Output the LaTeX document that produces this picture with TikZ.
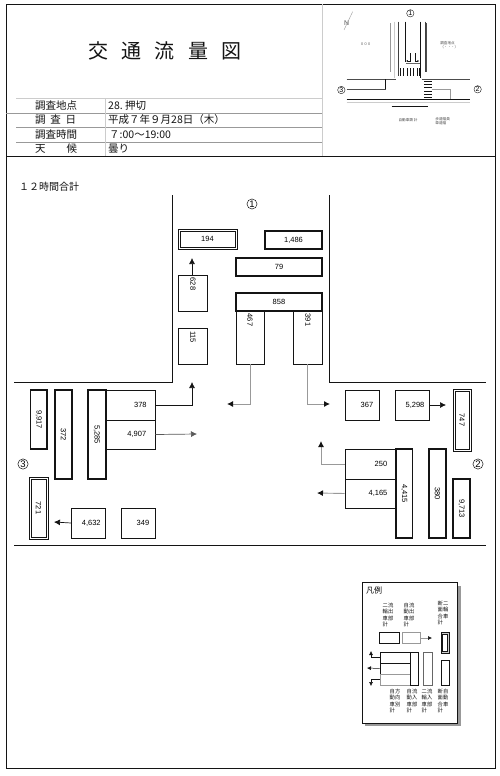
\documentclass[tikz,border=0pt]{standalone}
\usepackage{fontspec}
\usepackage{graphicx}
\setmainfont{Liberation Sans}
\newfontfamily\cjk{Noto Sans CJK JP}
\usetikzlibrary{arrows.meta,calc}
\definecolor{ink}{gray}{0.08}
\definecolor{mid}{gray}{0.6}
\definecolor{faint}{gray}{0.8}
\tikzset{
 cell/.style={draw=ink,line width=0.7pt,inner sep=0pt,font=\fontsize{7.5}{8}\selectfont},
 heavy/.style={draw=ink,line width=1.7pt,inner sep=0pt,font=\fontsize{7.5}{8}\selectfont},
 dbl/.style={draw=ink,line width=0.7pt,inner sep=0pt,font=\fontsize{7.5}{8}\selectfont},
 road/.style={draw=ink,line width=0.8pt},
 arr/.style={draw=ink,line width=0.7pt,-{Latex[length=6pt,width=6pt]}},
 garr/.style={draw=mid,line width=0.9pt,-{Latex[length=6pt,width=6pt,color=ink]}},
 lab/.style={font=\cjk\fontsize{10.5}{10.5}\selectfont,anchor=west,inner sep=0pt,text=ink},
 legtxt/.style={font=\cjk\fontsize{5.3}{6.3}\selectfont,align=left,inner sep=0pt,text=ink},
 legbox/.style={draw=ink,line width=0.6pt},
 tiny/.style={font=\cjk\fontsize{3.6}{4.4}\selectfont,inner sep=0pt,text=black!70,align=left},
 numtxt/.style={font=\fontsize{7.5}{8}\selectfont,rotate=-90,inner sep=0pt},
 circnum/.style={draw=ink,circle,inner sep=0.6pt,line width=0.5pt,font=\fontsize{9.5}{10}\selectfont},
 smallcirc/.style={draw=ink,circle,inner sep=0.4pt,line width=0.4pt,font=\fontsize{7}{7}\selectfont},
}
% box: name, x1,y1,x2,y2, style, text, rotation
\newcommand{\bx}[8]{\node[#6,rotate=#8,minimum width={(#8==0 ? #4-#2 : #5-#3)*1pt},minimum height={(#8==0 ? #5-#3 : #4-#2)*1pt}] (#1) at ({(#2+#4)/2},{(#3+#5)/2}) {#7};}
\newcommand{\inbox}[1]{\draw[ink,line width=0.6pt] ($(#1.north west)+(2.2,2.2)$) rectangle ($(#1.south east)+(-2.2,-2.2)$);}
\begin{document}
\begin{tikzpicture}[x=1pt,y=-1pt]
\useasboundingbox (0,0) rectangle (500,776);
\fill[white] (0,0) rectangle (500,776);
% page frame
\draw[ink,line width=0.7pt] (6,768) -- (6,4.5) -- (495,4.5) -- (495,768) -- cycle;
\draw[ink,line width=0.8pt] (6,156) -- (495,156);
\draw[faint,line width=0.7pt] (322,4.5) -- (322,156);
\draw[faint,line width=0.6pt] (16,98) -- (322,98);
\draw[mid,line width=0.6pt] (6,113) -- (322,113);
\draw[mid,line width=0.6pt] (16,127.5) -- (322,127.5);
\draw[mid,line width=0.6pt] (16,142) -- (322,142);
\draw[faint,line width=0.6pt] (105,98) -- (105,156);
% title
\foreach \c/\x in {交/98,通/131,流/164.5,量/198,図/231}
  \node[font=\cjk\fontsize{20}{20}\selectfont,inner sep=0pt,text=ink] (t\x) at (\x,51) {\c};
% table
\node[lab] (a1) at (35,105.5) {調査地点};
\node[lab] (a2) at (35,120) {調\hspace{0.45em}査\hspace{0.45em}日};
\node[lab] (a3) at (35,134.5) {調査時間};
\node[lab] (a4) at (35,149) {天\hspace{2em}候};
\node[lab] (b1) at (108,105.5) {28.\ 押切};
\node[lab] (b2) at (108,120) {平成７年９月28日（木）};
\node[lab] (b3) at (109,134.5) {７:00〜19:00};
\node[lab] (b4) at (108,149) {曇り};
\node[lab,font=\cjk\fontsize{10}{10}\selectfont] (sub) at (19,187) {１２時間合計};
% roads
\draw[road] (172,195) -- (172,382) -- (14,382);
\draw[road] (329,195) -- (329,382) -- (486,382);
\draw[road] (14,545.5) -- (486,545.5);
% circled numbers
\node[circnum] (n1) at (252,204) {1};
\node[circnum] (n2) at (478,464) {2};
\node[circnum] (n3) at (23,464) {3};
% north approach
\bx{q194}{178}{229}{237}{249}{dbl}{194}{0}\inbox{q194}
\bx{q1486}{265}{231}{322}{249}{heavy}{1,486}{0}
\bx{q79}{236}{258}{322}{276}{heavy}{79}{0}
\bx{q858}{236}{293}{322}{311}{heavy}{858}{0}
\bx{q628}{178.5}{275}{207.5}{311}{cell}{}{0}
\bx{q115}{178.5}{328}{207.5}{364}{cell}{}{0}
\bx{q467}{236}{311}{264.5}{364}{cell}{}{0}
\bx{q391}{293.5}{311}{322}{364}{cell}{}{0}
\node[numtxt] (t628) at (193,284) {628};
\node[numtxt] (t115) at (193,337) {115};
\node[numtxt] (t467) at (250,320) {467};
\node[numtxt] (t391) at (308,320) {391};
\coordinate (u1) at (192,258);
\coordinate (l1) at (227,404);
\coordinate (r1) at (330,404);
\draw[arr] (q628.north -| u1) -- (u1);
\draw[garr] (q467.south) |- (l1);
\draw[garr] (q391.south) |- (r1);
% west approach
\bx{w378}{105.7}{390}{155}{420}{cell}{\hspace*{20pt}378}{0}
\bx{w4907}{105.7}{420}{155}{449}{cell}{\hspace*{13pt}4,907}{0}
\bx{w5285}{88}{390}{105.7}{479}{heavy}{5,285}{-90}
\bx{w372}{55}{390}{72}{479}{heavy}{372}{-90}
\bx{w9917}{30.5}{390}{47}{449}{heavy}{9,917}{-90}
\bx{w721}{29}{477}{48}{539}{dbl}{\rotatebox{-90}{721}}{0}\inbox{w721}
\bx{w4632}{71.5}{508}{105}{538}{cell}{\hspace*{6pt}4,632}{0}
\bx{w349}{121}{508}{155}{538}{cell}{\hspace*{10pt}349}{0}
\coordinate (u2) at (192,382);
\coordinate (r2) at (197,434);
\coordinate (l2) at (54,522);
\draw[arr] (w378.east) -| (u2);
\draw[arr,draw=black!65] (w4907.east) -- (r2);
\draw[arr] (w4632.west) -- (l2);
% east approach
\bx{e367}{345}{390}{379}{420}{cell}{\hspace*{10pt}367}{0}
\bx{e5298}{395}{390}{429}{420}{cell}{\hspace*{6pt}5,298}{0}
\bx{e747}{453}{389}{471}{451}{dbl}{\rotatebox{-90}{747}}{0}\inbox{e747}
\bx{e250}{345}{449}{396}{479}{cell}{\hspace*{21pt}250}{0}
\bx{e4165}{345}{479}{396}{508}{cell}{\hspace*{15pt}4,165}{0}
\bx{e4415}{396}{449}{412.5}{538}{heavy}{4,415}{-90}
\bx{e380}{429}{449}{446}{538}{heavy}{380}{-90}
\bx{e9713}{453}{479}{470}{538}{heavy}{9,713}{-90}
\coordinate (r3) at (446,405);
\coordinate (u3) at (321,441);
\coordinate (l3) at (317,493);
\draw[arr] (e5298.east) -- (r3);
\draw[garr] (e250.west) -| (u3);
\draw[garr] (e4165.west) -- (l3);
% inset map
\begin{scope}[shift={(320,0)},x=0.3333pt,y=-0.3333pt]
 \node[smallcirc] (m1) at (271,40) {1};
 \node[smallcirc] (m2) at (473,268) {2};
 \node[smallcirc] (m3) at (64,270) {3};
 \node[font=\cjk\fontsize{6.5}{7}\selectfont,inner sep=0pt,text=black!70] (nn) at (80,68) {Ｎ};
 \draw[mid,line width=0.4pt] (72,90) -- (98,35);
 \draw[faint,line width=0.5pt] (222,65) -- (222,235);
 \draw[black!75,line width=0.5pt] (235,65) -- (235,228);
 \draw[ink,line width=0.7pt] (255,65) -- (255,185);
 \draw[ink,line width=0.6pt] (302,65) -- (302,235);
 \draw[black!75,line width=0.6pt] (315,65) -- (315,215);
 \draw[mid,line width=0.4pt] (210,70) -- (210,215);
 \draw[black!70,line width=0.4pt] (320,70) -- (320,215);
 \draw[black!60,line width=0.5pt] (258,190) -- (300,190);
 \draw[ink,line width=0.6pt,-{Latex[length=2pt,width=2pt]}] (270,160) -- (270,183) -- (258,183);
 \draw[ink,line width=0.6pt,-{Latex[length=2pt,width=2pt]}] (286,160) -- (286,183) -- (298,183);
 \foreach \x in {241,251,261,271,281,291,298} \draw[ink,line width=0.7pt] (\x,205) -- (\x,228);
 \foreach \y in {243,253,263,273,283,293} \draw[ink,line width=0.7pt] (313,\y) -- (335,\y);
 \draw[black!70,line width=0.6pt] (80,238) -- (228,238);
 \draw[black!70,line width=0.6pt] (305,238) -- (450,238);
 \draw[ink,line width=0.7pt] (80,298) -- (450,298);
 \draw[faint,line width=0.6pt] (80,307) -- (450,307);
 \draw[black!70,line width=0.6pt] (80,268) -- (197,268);
 \draw[ink,line width=0.7pt] (197,238) -- (197,268);
 \draw[mid,line width=0.6pt] (335,268) -- (390,268) -- (390,298);
 \draw[ink,line width=0.5pt] (215,320) -- (325,320);
 \node[tiny] (i1) at (137,132) {０００};
 \node[tiny] (i2) at (388,135) {調査地点\\（・・・）};
 \node[tiny] (i3) at (264,361) {自動車類 計};
 \node[tiny] (i4) at (368,363) {歩道幅員\\車道幅};
\end{scope}
% legend
\fill[mid] (365,586) rectangle (460.5,726);
\draw[ink,line width=0.6pt,fill=white] (362,582) rectangle (457,723);
\node[font=\cjk\fontsize{8}{8}\selectfont,inner sep=0pt] (lt) at (374,590) {凡例};
\node[legtxt] (k1) at (388,615) {二流\\輪出\\車部\\計};
\node[legtxt] (k2) at (409,615) {自流\\動出\\車部\\計};
\node[legtxt] (k3) at (443,613) {断二\\面輪\\合車\\計};
\node[legtxt] (k4) at (395,701) {自方\\動向\\車別\\計};
\node[legtxt] (k5) at (412,701) {自流\\動入\\車部\\計};
\node[legtxt] (k6) at (427,701) {二流\\輪入\\車部\\計};
\node[legtxt] (k7) at (443,701) {断自\\面動\\合車\\計};
\node[legbox,inner sep=0pt,minimum width=20pt,minimum height=11pt] (c1) at (389,638) {};
\node[legbox,draw=mid,inner sep=0pt,minimum width=18pt,minimum height=11pt] (c2) at (411,638) {};
\node[legbox,fill=faint,inner sep=0pt,minimum width=8.5pt,minimum height=21pt] (c3) at (445.2,642.5) {};
\node[legbox,fill=white,inner sep=0pt,minimum width=5pt,minimum height=17pt] (c4) at (445.2,642.5) {};
\node[legbox,inner sep=0pt,minimum width=30pt,minimum height=11pt] (d1) at (395,657.5) {};
\node[legbox,inner sep=0pt,minimum width=30pt,minimum height=11pt] (d2) at (395,668.5) {};
\node[legbox,draw=mid,inner sep=0pt,minimum width=30pt,minimum height=11pt] (d3) at (395,679.5) {};
\node[legbox,inner sep=0pt,minimum width=8.5pt,minimum height=33pt] (d4) at (414.2,668.5) {};
\node[legbox,draw=black!60,inner sep=0pt,minimum width=9pt,minimum height=33pt] (d5) at (427.5,668.5) {};
\node[legbox,inner sep=0pt,minimum width=8.5pt,minimum height=25pt] (d6) at (445.2,672.5) {};
\coordinate (le1) at (432,638);
\coordinate (le2) at (371,651);
\coordinate (le3) at (367,668);
\coordinate (le4) at (371,686);
\draw[draw=mid,line width=0.5pt,-{Latex[length=4pt,width=4pt,color=ink]}] (c2.east) -- (le1);
\draw[ink,line width=0.5pt,-{Latex[length=4pt,width=4pt]}] (d1.west) -| (le2);
\draw[ink,line width=0.5pt,-{Latex[length=4pt,width=4pt]}] (d2.west) -- (le3);
\draw[ink,line width=0.5pt,-{Latex[length=4pt,width=4pt]}] (d3.west) -| (le4);
\end{tikzpicture}
\end{document}
